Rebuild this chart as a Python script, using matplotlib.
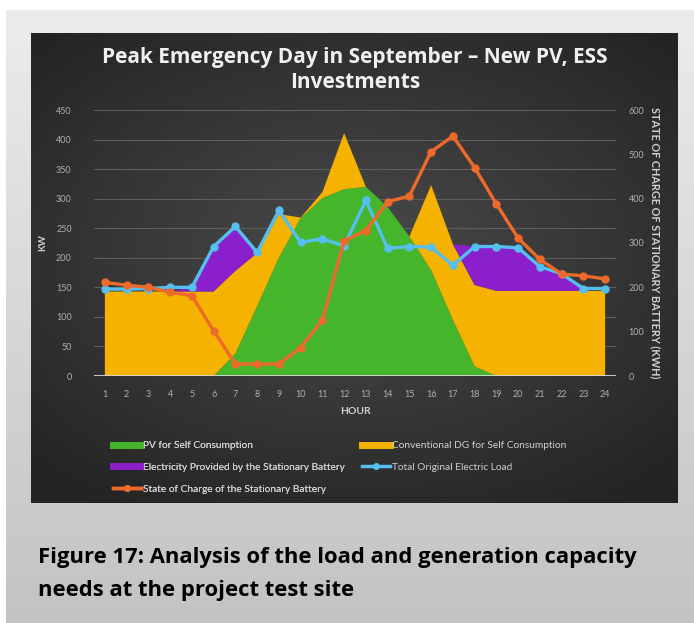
import numpy as np
import matplotlib.pyplot as plt
from matplotlib.lines import Line2D

# Hourly values
hours = list(range(1, 25))
pv = [0, 0, 0, 0, 0, 0, 38, 118, 200, 267, 301, 316, 320, 286, 236, 179, 95, 16, 0, 0, 0, 0, 0, 0]
dg = [143, 143, 143, 143, 143, 143, 140, 90, 74, 1, 10, 95, 0, 0, 0, 144, 128, 138, 144, 144, 144, 144, 144, 144]
battery = [0, 0, 0, 0, 7, 76, 75, 1, 0, 0, 0, 0, 0, 0, 0, 0, 0, 65, 75, 73, 41, 29, 0, 0]
load = [147, 147, 148, 150, 150, 219, 253, 209, 280, 226, 232, 220, 297, 216, 219, 218, 187, 219, 219, 217, 185, 173, 148, 148]
soc = [211, 205, 200, 189, 181, 102, 27, 27, 27, 64, 126, 305, 328, 393, 406, 506, 541, 470, 388, 311, 263, 230, 226, 219]

kw_ticks = list(range(0, 451, 50))
soc_ticks = list(range(0, 601, 100))

labels = ['PV for Self Consumption', 'Conventional DG for Self Consumption',
          'Electricity Provided by the Stationary Battery', 'Total Original Electric Load',
          'State of Charge of the Stationary Battery']

c_pv, c_dg, c_bat = '#45b52c', '#f5b200', '#8a1fcc'
c_load, c_soc = '#55bff0', '#ee6a2a'
txt = '#d0d0d0'

W, H = 694, 623
fig = plt.figure(figsize=(W / 100, H / 100), dpi=100, facecolor='white')

# light gray page panel with vertical gradient
bg = fig.add_axes([6 / W, 0, (W - 6) / W, (H - 10) / H], zorder=0)
grad = np.linspace(0, 1, 200).reshape(-1, 1)
bg.imshow(grad, cmap=plt.matplotlib.colors.LinearSegmentedColormap.from_list('g', ['#ececec', '#c3c3c3']),
          aspect='auto', extent=[0, 1, 0, 1], origin='upper')
bg.axis('off')

# dark chart panel with radial gradient
dk = fig.add_axes([31 / W, 1 - 503 / H, 647 / W, 470 / H], zorder=1)
yy, xx = np.mgrid[-1:1:300j, -1:1:300j]
r = np.clip(np.sqrt((xx * 0.9) ** 2 + (yy + 0.05) ** 2) / 1.3, 0, 1)
dk.imshow(r, cmap=plt.matplotlib.colors.LinearSegmentedColormap.from_list('d', ['#4b4b4b', '#232323']),
          aspect='auto', extent=[0, 1, 0, 1], vmin=0, vmax=1)
dk.axis('off')

ax = fig.add_axes([94 / W, 1 - 376 / H, 522 / W, 266 / H], zorder=2)
ax.set_facecolor('none')
ax.stackplot(hours, pv, dg, battery, colors=[c_pv, c_dg, c_bat], zorder=2)
ax.plot(hours, load, color=c_load, lw=2.4, marker='o', ms=5, zorder=4)
ax.axhline(0, color='#d8d8d8', lw=1.3, zorder=3)
ax.set_xlim(0.5, 24.5)
ax.set_ylim(0, 450)
ax.set_yticks(kw_ticks)
ax.set_xticks(hours)
ax.grid(axis='y', color='#5e5e5e', lw=0.8, zorder=0)
ax.set_axisbelow(True)
for s in ax.spines.values():
    s.set_visible(False)
ax.tick_params(length=0, colors='#b0b0b0', labelsize=6.5)
ax.tick_params(axis='y', pad=16)
ax.tick_params(axis='x', pad=10)
for t in ax.get_xticklabels() + ax.get_yticklabels():
    t.set_family('Lato')
ax.set_xlabel('HOUR', color=txt, fontsize=7.5, fontweight='bold', family='Lato', labelpad=6)
ax.set_ylabel('KW', color=txt, fontsize=7, fontweight='bold', family='Lato', labelpad=6)

ax2 = ax.twinx()
ax2.set_facecolor('none')
ax2.plot(hours, soc, color=c_soc, lw=2.4, marker='o', ms=5, zorder=5)
ax2.set_ylim(0, 600)
ax2.set_yticks(soc_ticks)
for s in ax2.spines.values():
    s.set_visible(False)
ax2.tick_params(length=0, colors='#b0b0b0', labelsize=6.5, pad=9)
for t in ax2.get_yticklabels():
    t.set_family('Lato')
ax2.set_ylabel('STATE OF CHARGE OF STATIONARY BATTERY (KWH)', color=txt, fontsize=7.8,
               fontweight='bold', family='Lato', rotation=270, labelpad=12)

fig.text(355 / W, 1 - 70 / H, 'Peak Emergency Day in September \u2013 New PV, ESS\nInvestments',
         ha='center', va='center', color='#f0f0f0', fontsize=15, fontweight='bold',
         family='Open Sans', linespacing=1.2)

# legend, two columns
h_pv = Line2D([], [], color=c_pv, lw=5)
h_dg = Line2D([], [], color=c_dg, lw=5)
h_bat = Line2D([], [], color=c_bat, lw=5)
h_load = Line2D([], [], color=c_load, lw=2.5, marker='o', ms=4)
h_soc = Line2D([], [], color=c_soc, lw=2.5, marker='o', ms=4)
leg1 = fig.legend([h_pv, h_bat, h_soc], [labels[0], labels[2], labels[4]],
                  loc='upper left', bbox_to_anchor=(104 / W, 1 - 432 / H), frameon=False,
                  labelcolor=txt, handlelength=2.7, handletextpad=0.2,
                  labelspacing=1.25, prop={'family': 'Lato', 'size': 7.3})
leg2 = fig.legend([h_dg, h_load], [labels[1], labels[3]],
                  loc='upper left', bbox_to_anchor=(353 / W, 1 - 432 / H), frameon=False,
                  labelcolor=txt, handlelength=2.7, handletextpad=0.2,
                  labelspacing=1.25, prop={'family': 'Lato', 'size': 7.3})
fig.add_artist(leg1)

fig.text(38 / W, 1 - 574 / H, 'Figure 17: Analysis of the load and generation capacity\nneeds at the project test site',
         ha='left', va='center', color='black', fontsize=15.8, fontweight='bold',
         family='Open Sans', linespacing=1.72)

fig.savefig('out.png', dpi=100, facecolor='white')
